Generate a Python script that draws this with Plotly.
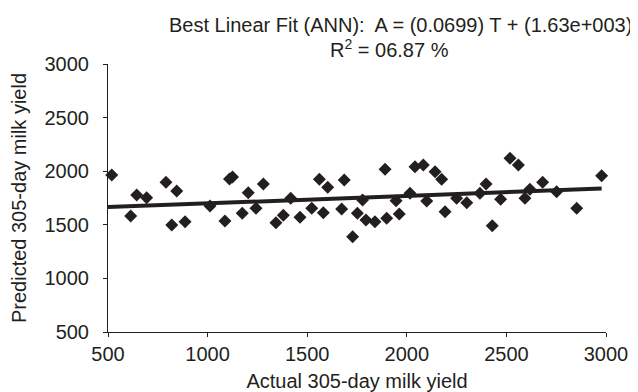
import plotly.graph_objects as go

# Data
actual = [519, 614, 644, 694, 791, 820, 845, 887, 1012, 1087, 1110, 1125, 1174, 1204,
          1243, 1280, 1343, 1380, 1417, 1464, 1523, 1561, 1581, 1603, 1673, 1686, 1728,
          1752, 1778, 1795, 1840, 1891, 1899, 1946, 1962, 2016, 2041, 2083, 2100, 2142,
          2175, 2192, 2250, 2301, 2367, 2398, 2429, 2471, 2518, 2560, 2593, 2618, 2682,
          2752, 2853, 2978]
predicted = [1965, 1582, 1778, 1753, 1897, 1498, 1816, 1529, 1676, 1536, 1928, 1945, 1607, 1800,
             1654, 1881, 1520, 1590, 1747, 1570, 1654, 1925, 1613, 1850, 1648, 1918, 1389,
             1607, 1732, 1545, 1529, 2018, 1561, 1725, 1601, 1794, 2042, 2058, 1722, 1996,
             1925, 1622, 1747, 1706, 1794, 1881, 1492, 1738, 2120, 2058, 1747, 1831, 1897,
             1809, 1654, 1958]

slope = 0.0699
intercept = 1630
x_ticks = [500, 1000, 1500, 2000, 2500, 3000]
y_ticks = [500, 1000, 1500, 2000, 2500, 3000]

INK = "#231f20"
FONT = "Liberation Sans, Arial, sans-serif"

fit_x = [x_ticks[0], max(actual)]
fit_y = [slope * v + intercept for v in fit_x]

fig = go.Figure()
fig.add_trace(go.Scatter(x=actual, y=predicted, mode="markers",
                         marker=dict(symbol="diamond", size=10, color=INK,
                                     line=dict(width=0)),
                         showlegend=False, cliponaxis=False))
fig.add_trace(go.Scatter(x=fit_x, y=fit_y, mode="lines",
                         line=dict(color=INK, width=4), showlegend=False))

# plot area in figure pixels: x 100..598, y 56..324
L, T, PW, PH = 100, 56, 498.0, 268.0
fig.add_annotation(text="Best Linear Fit (ANN):  A = (0.0699) T + (1.63e+003)",
                   xref="paper", yref="paper", x=(392 - L) / PW, y=(T + PH - 17) / PH,
                   xanchor="center", yanchor="middle", showarrow=False,
                   font=dict(family=FONT, size=20, color=INK))
fig.add_annotation(text="R<sup>2</sup> = 06.87 %",
                   xref="paper", yref="paper", x=(381 - L) / PW, y=(T + PH - 41) / PH,
                   xanchor="center", yanchor="middle", showarrow=False,
                   font=dict(family=FONT, size=20, color=INK))

fig.update_layout(
    width=630, height=384,
    margin=dict(l=100, r=32, t=56, b=60),
    paper_bgcolor="white", plot_bgcolor="white",
    font=dict(family=FONT, size=20, color=INK),
    xaxis=dict(range=[500, 3000], tickvals=x_ticks, showgrid=False, zeroline=False,
               showline=True, linecolor=INK, linewidth=1, ticks="outside", ticklen=4,
               tickcolor=INK, tickwidth=1, tickfont=dict(size=20, color=INK),
               title=dict(text="Actual 305-day milk yield", font=dict(size=20, color=INK),
                          standoff=16),
               automargin=False),
    yaxis=dict(range=[500, 3000], tickvals=y_ticks, showgrid=False, zeroline=False,
               showline=True, linecolor=INK, linewidth=1, ticks="outside", ticklen=4,
               tickcolor=INK, tickwidth=1, tickfont=dict(size=20, color=INK),
               ticklabelstandoff=10,
               title=dict(text="Predicted 305-day milk yield", font=dict(size=20, color=INK),
                          standoff=12),
               automargin=False),
)

fig.write_html("out.html")
